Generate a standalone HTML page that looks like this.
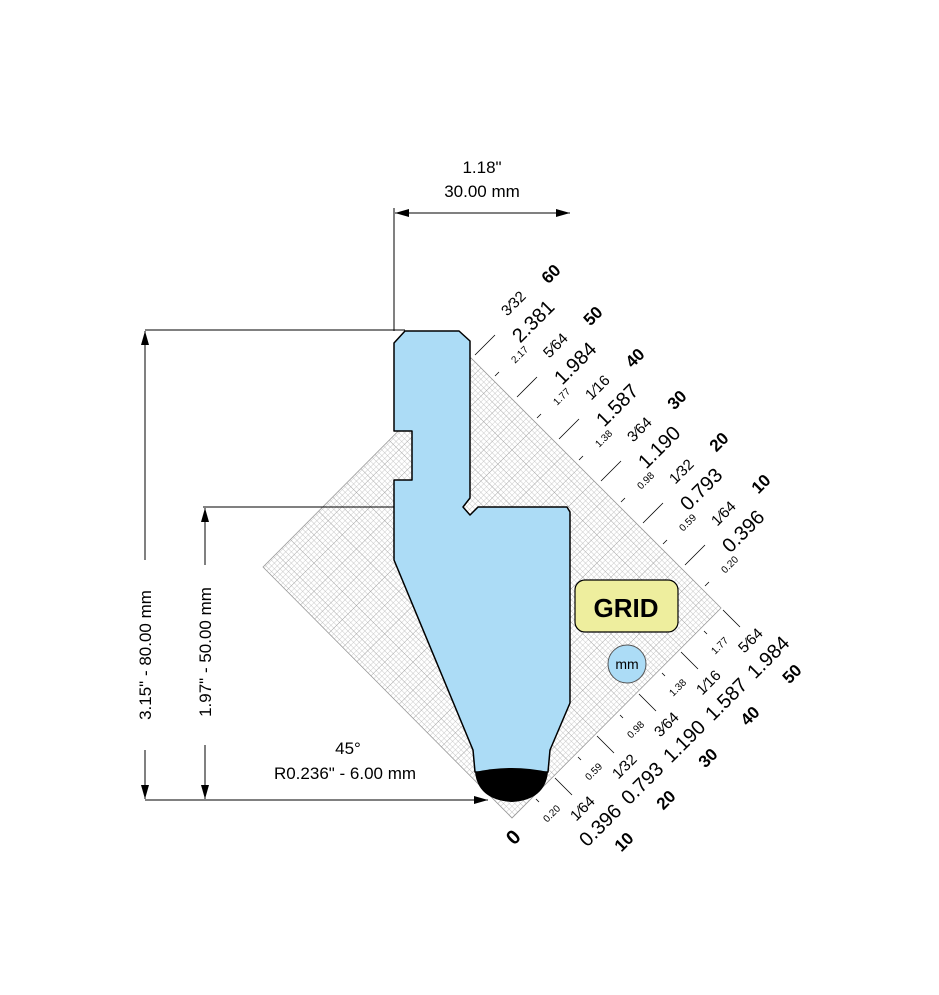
<!DOCTYPE html>
<html><head><style>body{margin:0;background:#fff}svg{display:block}text{font-family:"Liberation Sans",Arial,sans-serif;fill:#000}</style></head><body>
<svg width="939" height="995" viewBox="0 0 939 995" xmlns="http://www.w3.org/2000/svg">
<defs>
<pattern id="fine" width="4" height="4" patternUnits="userSpaceOnUse"><path d="M4 0V4H0" fill="none" stroke="#b8b8b8" stroke-width="0.7"/></pattern>
<pattern id="major" width="20" height="20" patternUnits="userSpaceOnUse" patternTransform="rotate(45 512 818) translate(512 818)"><rect width="20" height="20" fill="url(#fine)"/><path d="M20 0V20H0" fill="none" stroke="#999" stroke-width="0.8"/></pattern>
<marker id="ah" markerWidth="14" markerHeight="8" refX="14" refY="4" orient="auto-start-reverse" markerUnits="userSpaceOnUse"><path d="M0 0L14 4L0 8z" fill="#000"/></marker>
</defs>
<polygon points="263,567 471,358 721,608 512,818" fill="url(#major)" stroke="#999" stroke-width="0.8"/>
<g stroke="#000" stroke-width="1" fill="none">
<line x1="394" y1="208" x2="394" y2="331"/>
<line x1="395" y1="213" x2="570" y2="213" marker-start="url(#ah)" marker-end="url(#ah)"/>
<line x1="145" y1="330" x2="405" y2="330"/>
<line x1="203" y1="507" x2="394" y2="507"/>
<line x1="145" y1="800" x2="488" y2="800" marker-end="url(#ah)"/>
<line x1="145" y1="331" x2="145" y2="560" marker-start="url(#ah)"/>
<line x1="145" y1="750" x2="145" y2="799" marker-end="url(#ah)"/>
<line x1="205" y1="508" x2="205" y2="565" marker-start="url(#ah)"/>
<line x1="205" y1="745" x2="205" y2="799" marker-end="url(#ah)"/>
</g>
<text x="482" y="173" font-size="17" text-anchor="middle">1.18"</text>
<text x="482" y="197" font-size="17" text-anchor="middle">30.00 mm</text>
<text transform="translate(151,655) rotate(-90)" font-size="17" text-anchor="middle">3.15" - 80.00 mm</text>
<text transform="translate(211,652) rotate(-90)" font-size="17" text-anchor="middle">1.97" - 50.00 mm</text>
<text x="348" y="754" font-size="17" text-anchor="middle">45°</text>
<text x="345" y="779" font-size="17" text-anchor="middle">R0.236" - 6.00 mm</text>
<path d="M394 343L405 331L459 331L470 341L470 498L463 507L470 515L478 507L567 507L570 512L570 703L550 750L548 772L475 772L473 750L394 560L394 480L412 480L412 431L394 431Z" fill="#acdcf6" stroke="#000" stroke-width="1.5" stroke-linejoin="round"/>
<path d="M475 772Q512 764 548 772Q545 800 512 802Q478 800 475 772Z" fill="#000"/>
<rect x="575" y="580" width="103" height="52" rx="10" fill="#eeee9e" stroke="#000" stroke-width="1.2"/>
<text x="626" y="617" font-size="26" font-weight="bold" text-anchor="middle">GRID</text>
<circle cx="627" cy="664" r="19" fill="#acdcf6" stroke="#555"/>
<text x="627" y="669" font-size="14" text-anchor="middle">mm</text>
<g stroke="#000" stroke-width="0.8">
<line x1="475" y1="355" x2="495" y2="335"/><line x1="517" y1="397" x2="537" y2="377"/><line x1="559" y1="439" x2="579" y2="419"/><line x1="601" y1="481" x2="621" y2="461"/><line x1="643" y1="523" x2="663" y2="503"/><line x1="685" y1="565" x2="705" y2="545"/>
<line x1="495" y1="376" x2="499" y2="372"/><line x1="537" y1="418" x2="541" y2="414"/><line x1="579" y1="460" x2="583" y2="456"/><line x1="621" y1="502" x2="625" y2="498"/><line x1="663" y1="544" x2="667" y2="540"/><line x1="705" y1="586" x2="709" y2="582"/>
</g>
<g font-size="17" text-anchor="middle">
<text transform="translate(555,278) rotate(-45)" font-weight="bold">60</text>
<text transform="translate(597,320) rotate(-45)" font-weight="bold">50</text>
<text transform="translate(639,362) rotate(-45)" font-weight="bold">40</text>
<text transform="translate(681,404) rotate(-45)" font-weight="bold">30</text>
<text transform="translate(723,446) rotate(-45)" font-weight="bold">20</text>
<text transform="translate(765,488) rotate(-45)" font-weight="bold">10</text>
<text transform="translate(538,326) rotate(-45)" font-size="20">2.381</text>
<text transform="translate(580,368) rotate(-45)" font-size="20">1.984</text>
<text transform="translate(622,410) rotate(-45)" font-size="20">1.587</text>
<text transform="translate(664,452) rotate(-45)" font-size="20">1.190</text>
<text transform="translate(706,494) rotate(-45)" font-size="20">0.793</text>
<text transform="translate(748,536) rotate(-45)" font-size="20">0.396</text>
<text transform="translate(517,307) rotate(-45)" font-size="15">3⁄32</text>
<text transform="translate(559,349) rotate(-45)" font-size="15">5⁄64</text>
<text transform="translate(601,391) rotate(-45)" font-size="15">1⁄16</text>
<text transform="translate(643,433) rotate(-45)" font-size="15">3⁄64</text>
<text transform="translate(685,475) rotate(-45)" font-size="15">1⁄32</text>
<text transform="translate(727,517) rotate(-45)" font-size="15">1⁄64</text>
<text transform="translate(522,357) rotate(-45)" font-size="10">2.17</text>
<text transform="translate(564,399) rotate(-45)" font-size="10">1.77</text>
<text transform="translate(606,441) rotate(-45)" font-size="10">1.38</text>
<text transform="translate(648,483) rotate(-45)" font-size="10">0.98</text>
<text transform="translate(690,525) rotate(-45)" font-size="10">0.59</text>
<text transform="translate(732,567) rotate(-45)" font-size="10">0.20</text>
</g>
<g stroke="#000" stroke-width="0.8">
<line x1="555" y1="778" x2="572" y2="795"/><line x1="597" y1="736" x2="614" y2="753"/><line x1="639" y1="694" x2="656" y2="711"/><line x1="681" y1="652" x2="698" y2="669"/><line x1="723" y1="610" x2="740" y2="627"/>
<line x1="536" y1="799" x2="539" y2="802"/><line x1="578" y1="757" x2="581" y2="760"/><line x1="620" y1="715" x2="623" y2="718"/><line x1="662" y1="673" x2="665" y2="676"/><line x1="704" y1="631" x2="707" y2="634"/>
</g>
<g font-size="17" text-anchor="middle">
<text transform="translate(518,842) rotate(-45)" font-weight="bold" font-size="20">0</text>
<text transform="translate(628,846) rotate(-45)" font-weight="bold">10</text>
<text transform="translate(670,804) rotate(-45)" font-weight="bold">20</text>
<text transform="translate(712,762) rotate(-45)" font-weight="bold">30</text>
<text transform="translate(754,720) rotate(-45)" font-weight="bold">40</text>
<text transform="translate(796,678) rotate(-45)" font-weight="bold">50</text>
<text transform="translate(605,830) rotate(-45)" font-size="20">0.396</text>
<text transform="translate(647,788) rotate(-45)" font-size="20">0.793</text>
<text transform="translate(689,746) rotate(-45)" font-size="20">1.190</text>
<text transform="translate(731,704) rotate(-45)" font-size="20">1.587</text>
<text transform="translate(773,662) rotate(-45)" font-size="20">1.984</text>
<text transform="translate(586,812) rotate(-45)" font-size="15">1⁄64</text>
<text transform="translate(628,770) rotate(-45)" font-size="15">1⁄32</text>
<text transform="translate(670,728) rotate(-45)" font-size="15">3⁄64</text>
<text transform="translate(712,686) rotate(-45)" font-size="15">1⁄16</text>
<text transform="translate(754,644) rotate(-45)" font-size="15">5⁄64</text>
<text transform="translate(554,816) rotate(-45)" font-size="10">0.20</text>
<text transform="translate(596,774) rotate(-45)" font-size="10">0.59</text>
<text transform="translate(638,732) rotate(-45)" font-size="10">0.98</text>
<text transform="translate(680,690) rotate(-45)" font-size="10">1.38</text>
<text transform="translate(722,648) rotate(-45)" font-size="10">1.77</text>
</g>
</svg>
</body></html>
